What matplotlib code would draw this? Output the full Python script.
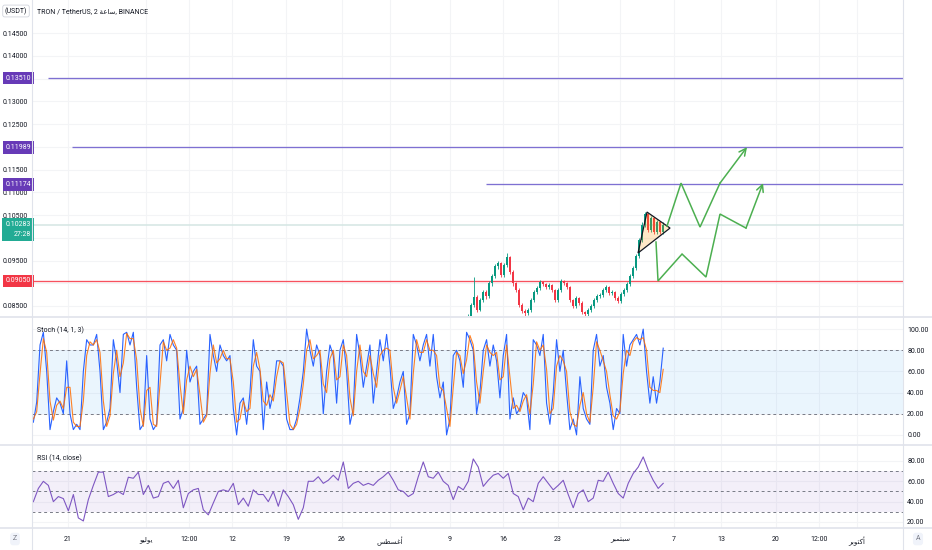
import numpy as np
import matplotlib.pyplot as plt
from matplotlib.patches import Polygon
from matplotlib.lines import Line2D

plt.rcParams['font.family'] = ['Roboto', 'DejaVu Sans']

# ---- data (x in days, 0 = 21 June) ----
x_min, x_max = -4.645, 107.74

price_ticks = [0.085, 0.090, 0.095, 0.100, 0.105, 0.110, 0.115, 0.120, 0.125, 0.130, 0.135, 0.140, 0.145]
levels = [0.13510, 0.11989, 0.11174]
level_starts = [-2.58, 0.52, 53.94]
support = 0.09050
last_price = 0.10283
countdown = '27:28'

candle_start, candle_step = 51.61, 0.387
opens = [0.0822, 0.0828, 0.0852, 0.0870, 0.0841, 0.0863, 0.0881, 0.0872, 0.0900, 0.0916, 0.0938,
         0.0944, 0.0918, 0.0940, 0.0958, 0.0925, 0.0900, 0.0885, 0.0852, 0.0839, 0.0835, 0.0841,
         0.0863, 0.0881, 0.0890, 0.0903, 0.0898, 0.0892, 0.0896, 0.0885, 0.0863, 0.0885, 0.0905,
         0.0900, 0.0892, 0.0863, 0.0850, 0.0868, 0.0857, 0.0837, 0.0832, 0.0841, 0.0850, 0.0863,
         0.0872, 0.0874, 0.0885, 0.0892, 0.0879, 0.0881, 0.0868, 0.0861, 0.0876, 0.0885, 0.0898,
         0.0916, 0.0934, 0.0960, 0.0995, 0.1028, 0.1052, 0.1017, 0.1043, 0.1013, 0.1035, 0.1013]
highs = [0.0832, 0.0857, 0.0914, 0.0874, 0.0868, 0.0886, 0.0886, 0.0904, 0.0920, 0.0943, 0.0950,
         0.0947, 0.0944, 0.0966, 0.0960, 0.0929, 0.0903, 0.0889, 0.0856, 0.0843, 0.0846, 0.0868,
         0.0885, 0.0895, 0.0908, 0.0906, 0.0901, 0.0900, 0.0899, 0.0888, 0.0889, 0.0909, 0.0908,
         0.0903, 0.0894, 0.0866, 0.0872, 0.0870, 0.0860, 0.0840, 0.0845, 0.0854, 0.0867, 0.0877,
         0.0879, 0.0889, 0.0896, 0.0895, 0.0886, 0.0884, 0.0871, 0.0880, 0.0889, 0.0903, 0.0920,
         0.0939, 0.0965, 0.1000, 0.1034, 0.1057, 0.1055, 0.1048, 0.1046, 0.1040, 0.1038, 0.1034]
lows = [0.0815, 0.0824, 0.0848, 0.0836, 0.0838, 0.0858, 0.0866, 0.0868, 0.0895, 0.0912, 0.0932,
        0.0913, 0.0914, 0.0935, 0.0920, 0.0895, 0.0880, 0.0847, 0.0834, 0.0828, 0.0830, 0.0837,
        0.0858, 0.0876, 0.0886, 0.0894, 0.0888, 0.0888, 0.0881, 0.0858, 0.0859, 0.0880, 0.0896,
        0.0887, 0.0858, 0.0845, 0.0846, 0.0852, 0.0833, 0.0827, 0.0829, 0.0837, 0.0846, 0.0859,
        0.0868, 0.0870, 0.0881, 0.0874, 0.0875, 0.0864, 0.0856, 0.0857, 0.0872, 0.0881, 0.0894,
        0.0912, 0.0930, 0.0956, 0.0990, 0.1023, 0.1012, 0.1012, 0.1008, 0.1009, 0.1008, 0.1009]
closes = [0.0828, 0.0852, 0.0870, 0.0841, 0.0863, 0.0881, 0.0872, 0.0900, 0.0916, 0.0938, 0.0944,
          0.0918, 0.0940, 0.0958, 0.0925, 0.0900, 0.0885, 0.0852, 0.0839, 0.0835, 0.0841, 0.0863,
          0.0881, 0.0890, 0.0903, 0.0898, 0.0892, 0.0896, 0.0885, 0.0863, 0.0885, 0.0905, 0.0900,
          0.0892, 0.0863, 0.0850, 0.0868, 0.0857, 0.0837, 0.0832, 0.0841, 0.0850, 0.0863, 0.0872,
          0.0874, 0.0885, 0.0892, 0.0879, 0.0881, 0.0868, 0.0861, 0.0876, 0.0885, 0.0898, 0.0916,
          0.0934, 0.0960, 0.0995, 0.1028, 0.1052, 0.1017, 0.1043, 0.1013, 0.1035, 0.1013, 0.10283]

# drawings
tri_x = [74.71, 77.68, 73.55]
tri_y = [0.10566, 0.10214, 0.09665]
path_a_x = [77.29, 79.10, 81.55, 84.13, 87.61]
path_a_y = [0.10258, 0.11203, 0.10236, 0.11203, 0.11995]
path_b_x = [75.87, 76.13, 79.23, 82.32, 84.13, 87.48, 89.68]
path_b_y = [0.09907, 0.09050, 0.09643, 0.09137, 0.10522, 0.10214, 0.11203]

# Stoch (14, 1, 3)
osc_start = -4.47
stoch_step = 0.43
stoch_k = [12, 31, 85, 97, 60, 5, 22, 35, 30, 20, 70, 20, 5, 10, 5, 60, 90, 85, 85, 95,
           60, 5, 12, 25, 90, 70, 40, 95, 97, 85, 97, 45, 5, 10, 75, 15, 5, 10, 85, 90,
           70, 95, 85, 80, 15, 25, 80, 50, 60, 65, 10, 15, 20, 95, 75, 60, 85, 75, 70, 75,
           25, 0, 30, 35, 10, 40, 90, 65, 60, 5, 50, 25, 40, 70, 70, 65, 15, 5, 5, 15,
           35, 60, 100,
           80, 65, 85, 75, 20, 60, 85, 75, 30, 80, 90, 60, 10, 25, 95, 75, 45, 65, 85, 30,
           60, 90, 70, 95, 65, 25, 35, 50, 60, 10, 20, 95, 85, 70, 85, 95, 65, 95, 55, 35,
           50, 0, 15, 75, 80, 70, 45, 97, 90, 80, 20, 40, 80, 90, 65, 85, 70, 35, 75, 95,
           15, 35, 20, 25, 40, 35, 5, 90, 85, 75, 95, 30, 10, 40, 90, 60, 80, 40, 5, 15,
           0, 55, 25, 15, 10, 80, 95, 65, 75, 45, 30, 5, 25, 20, 95, 65, 85, 90, 95, 85,
           100, 60, 30, 55, 30, 50, 82]
stoch_d = [15, 22, 58, 91, 78, 32, 14, 28, 32, 25, 45, 45, 12, 8, 8, 32, 75, 88, 85, 90,
           78, 32, 8, 18, 58, 80, 55, 68, 96, 91, 91, 71, 25, 8, 42, 45, 10, 8, 48, 88,
           80, 82, 90, 82, 48, 20, 52, 65, 55, 62, 38, 12, 18, 58, 85, 68, 72, 80, 72, 72,
           50, 12, 15, 32, 22, 25, 65, 78, 62, 32, 28, 38, 32, 55, 70, 68, 40, 10, 5, 10,
           25, 48, 80,
           90, 72, 75, 80, 48, 40, 72, 80, 52, 55, 85, 75, 35, 18, 60, 85, 60, 55, 75, 58,
           45, 75, 80, 82, 80, 45, 30, 42, 55, 35, 15, 58, 90, 78, 78, 90, 80, 80, 75, 45,
           42, 25, 8, 45, 78, 75, 58, 71, 94, 85, 50, 30, 60, 85, 78, 75, 78, 52, 55, 85,
           55, 25, 28, 22, 32, 38, 20, 48, 88, 80, 85, 62, 20, 25, 65, 75, 70, 60, 22, 10,
           8, 28, 40, 20, 12, 45, 88, 80, 70, 60, 38, 18, 15, 22, 58, 80, 75, 88, 92, 90,
           92, 80, 45, 42, 42, 40, 62]

# RSI (14, close)
rsi_step = 0.645
rsi = [40, 53, 60, 56, 40, 45, 43, 31, 47, 24, 21, 42, 56, 69, 69, 45, 47, 50, 47, 64,
       63, 69, 47, 56, 43.5, 45, 58, 60, 53, 61, 34, 48, 51.6, 53, 32, 27, 38.7, 50, 51.6, 50,
       58, 37, 43.5, 35.5, 51.6, 47, 47, 40, 50, 35.5, 51.6, 45, 37, 22.6, 34, 60, 60, 64.5, 58, 61,
       66, 61, 79, 53, 58, 60, 56, 58, 56, 61, 64.5, 69, 61, 51.6, 50, 45, 48, 64.5, 79, 64.5,
       63, 69, 60, 56, 42, 55, 51.6, 60, 82,
       74, 55, 61, 66, 67.7, 63, 67.7, 48, 45, 32, 43.5, 40, 58, 64.5, 58, 51.6, 56, 61, 47, 34,
       48, 51.6, 40, 43.5, 61, 60, 69, 58, 48, 43.5, 58, 67.7, 74, 84, 71, 61, 53, 58]

time_ticks = [0, 10.06, 15.61, 21.16, 28.13, 35.35, 41.55, 49.29, 56.13, 63.23, 71.23,
              78.19, 84.26, 91.35, 96.90, 101.81]
# Arabic month names written in presentation forms, visual order
time_labels = ['21', '\ufeee\ufef4\ufedf\ufeee\ufef3', '12:00', '12', '19', '26',
               '\ufeb2\ufec4\ufeb4\ufecf\ufe83', '9', '16', '23',
               '\ufeae\ufe92\ufee4\ufe98\ufe92\ufeb3', '7', '13', '20', '12:00',
               '\ufeae\ufe91\ufeee\ufe98\ufedb\ufe83']
title = 'TRON / TetherUS, 2 \ufe94\ufecb\ufe8e\ufeb3, BINANCE'

# ---- layout ----
W, H = 932, 550
fig = plt.figure(figsize=(W / 100, H / 100), dpi=100)


def box(l, t, r, b):
    return [l / W, 1 - b / H, (r - l) / W, (b - t) / H]


ax = fig.add_axes(box(32, 0, 903, 316))
ax_st = fig.add_axes(box(32, 318, 903, 444))
ax_rsi = fig.add_axes(box(32, 446, 903, 528))

txt = '#131722'
grid_c = '#f3f4f6'
for a in (ax, ax_st, ax_rsi):
    a.set_xlim(x_min, x_max)
    for s in a.spines.values():
        s.set_visible(False)
    a.tick_params(length=0, labelsize=5, colors=txt)
    a.set_xticks(time_ticks)
    a.grid(True, color=grid_c, lw=0.8)
    a.set_axisbelow(True)
for a in (ax, ax_st):
    a.tick_params(labelbottom=False)

# separators
for y in (317, 445, 528):
    fig.add_artist(Line2D([0, 1], [1 - y / H] * 2, color='#e0e3eb', lw=1.2))
for xpx in (32, 903):
    fig.add_artist(Line2D([xpx / W] * 2, [0, 1], color='#e0e3eb', lw=0.8))

# ---- price panel ----
ax.set_ylim(0.0828, 0.1523)
ax.set_yticks(price_ticks)
# tick labels hidden behind the price boxes are left blank
boxed = levels + [support, last_price]
ax.set_yticklabels(['' if min(abs(p - b) for b in boxed) < 0.0009 or abs(p - 0.100) < 1e-9
                    else '%.5f' % p for p in price_ticks])
ax.tick_params(axis='y', pad=3)

xs = candle_start + np.arange(len(closes)) * candle_step
cols = ['#089981' if c >= o else '#f23645' for o, c in zip(opens, closes)]
ax.vlines(xs, lows, highs, colors=cols, lw=0.6, zorder=3)
bottoms = np.minimum(opens, closes)
heights = np.maximum(np.abs(np.array(closes) - np.array(opens)), 0.00008)
ax.bar(xs, heights, bottom=bottoms, width=0.26, color=cols, lw=0, zorder=3)

for lvl, st in zip(levels, level_starts):
    ax.hlines(lvl, st, x_max, color='#7e70d2', lw=0.95, zorder=2)
ax.axhline(support, color='#f7525f', lw=0.95, zorder=2)
ax.axhline(last_price, color='#d4e6e3', lw=1.1, zorder=1)

ax.add_patch(Polygon(list(zip(tri_x, tri_y)), closed=True, fc='#ff9800', alpha=0.22, ec='none', zorder=4))
ax.add_patch(Polygon(list(zip(tri_x, tri_y)), closed=True, fill=False, ec='#131722', lw=0.9, zorder=5))

green = '#4caf50'
for px_, py_ in ((path_a_x, path_a_y), (path_b_x, path_b_y)):
    ax.plot(px_[:-1], py_[:-1], color=green, lw=1.1, zorder=5, solid_joinstyle='miter')
    ax.annotate('', xy=(px_[-1], py_[-1]), xytext=(px_[-2], py_[-2]),
                arrowprops=dict(arrowstyle='->,head_length=0.5,head_width=0.25', color=green, lw=1.1,
                                shrinkA=0, shrinkB=0), zorder=5)

ytr = ax.get_yaxis_transform()
for lvl in levels:
    ax.text(-0.0012, lvl, '%.5f' % lvl, transform=ytr, ha='right', va='center', fontsize=5,
            color='white', clip_on=False, zorder=10,
            bbox=dict(boxstyle='square,pad=0.4', fc='#673ab7', ec='none'))
ax.text(-0.0012, support, '%.5f' % support, transform=ytr, ha='right', va='center', fontsize=5,
        color='white', clip_on=False, zorder=10,
        bbox=dict(boxstyle='square,pad=0.4', fc='#f23645', ec='none'))
ax.annotate('%.5f\n%s' % (last_price, countdown), xy=(-0.0012, last_price), xycoords=ytr,
            xytext=(0, 2.6), textcoords='offset points', ha='right', va='top', fontsize=5,
            color='white', multialignment='right', linespacing=1.55, zorder=10, annotation_clip=False,
            bbox=dict(boxstyle='square,pad=0.45', fc='#22ab94', ec='none'))

fig.text(37 / W, 1 - 12 / H, title, fontsize=5, color=txt, va='center')
fig.text(16 / W, 1 - 11 / H, '(USDT)', fontsize=5, color=txt, va='center', ha='center',
         bbox=dict(boxstyle='round,pad=0.3', fc='white', ec='#d1d4dc', lw=0.6))

# ---- stochastic panel ----
ax_st.set_ylim(-8.6, 110.5)
ax_st.yaxis.tick_right()
ax_st.set_yticks([0, 20, 40, 60, 80, 100])
ax_st.set_yticklabels(['%.2f' % v for v in [0, 20, 40, 60, 80, 100]])
ax_st.tick_params(axis='y', pad=3)
ax_st.axhspan(20, 80, color='#2196f3', alpha=0.09, lw=0)
for v in (20, 80):
    ax_st.axhline(v, color='#787b86', lw=0.7, ls=(0, (3, 3)))
sx = osc_start + np.arange(len(stoch_k)) * stoch_step
ax_st.plot(sx, stoch_k, color='#2962ff', lw=0.8)
ax_st.plot(sx, stoch_d, color='#ff6d00', lw=0.8, alpha=0.85)
ax_st.text(0.006, 0.9, 'Stoch (14, 1, 3)', transform=ax_st.transAxes, fontsize=5,
           color=txt, va='center')

# ---- RSI panel ----
ax_rsi.set_ylim(14.1, 94.7)
ax_rsi.yaxis.tick_right()
ax_rsi.set_yticks([20, 40, 60, 80])
ax_rsi.set_yticklabels(['%.2f' % v for v in [20, 40, 60, 80]])
ax_rsi.tick_params(axis='y', pad=3)
ax_rsi.axhspan(30, 70, color='#7e57c2', alpha=0.09, lw=0)
for v in (30, 50, 70):
    ax_rsi.axhline(v, color='#787b86', lw=0.7, ls=(0, (3, 3)))
rx = osc_start + np.arange(len(rsi)) * rsi_step
ax_rsi.plot(rx, rsi, color='#7e57c2', lw=0.8)
ax_rsi.text(0.006, 0.85, 'RSI (14, close)', transform=ax_rsi.transAxes, fontsize=5,
            color=txt, va='center')
ax_rsi.set_xticklabels(time_labels)
ax_rsi.tick_params(axis='x', pad=6)

fig.text(15 / W, 1 - 539 / H, 'Z', fontsize=5, color='#787b86', ha='center', va='center',
         bbox=dict(boxstyle='round,pad=0.4', fc='#f0f3fa', ec='none'))
fig.text(918 / W, 1 - 539 / H, 'A', fontsize=5, color='#787b86', ha='center', va='center',
         bbox=dict(boxstyle='round,pad=0.4', fc='#f0f3fa', ec='none'))

fig.savefig('out.png', dpi=100)
